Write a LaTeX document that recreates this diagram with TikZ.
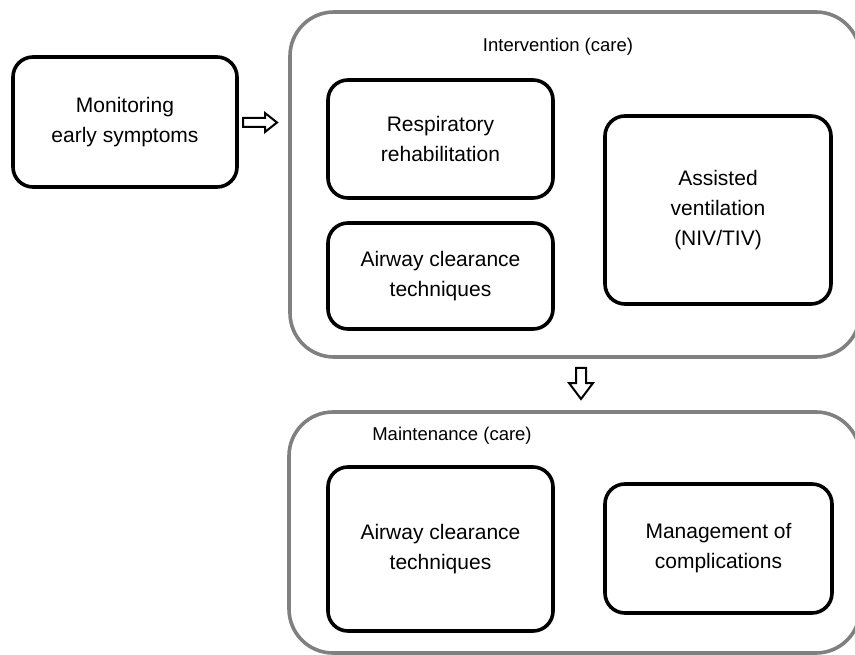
\documentclass[tikz,border=0pt]{standalone}
\usepackage{fontspec}
\setmainfont{Liberation Sans}
\begin{document}
\begin{tikzpicture}[x=1pt,y=-1pt,
  innerbox/.style={draw=black, line width=3.6pt, rounded corners=20pt, align=center,
    font=\fontsize{21}{30}\selectfont, inner sep=0pt},
  outerbox/.style={draw=black!50, line width=3.6pt, rounded corners=44pt, inner sep=0pt},
  title/.style={font=\fontsize{18.5}{24}\selectfont, inner sep=0pt},
  blockarrow/.style={draw=black, line width=2pt, fill=white, line join=miter}]
\useasboundingbox (0,0) rectangle (855,655);
\clip (0,0) rectangle (855,655);
\node[outerbox, minimum width=570pt, minimum height=345pt] (inter) at (575,184.5) {};
\node[outerbox, minimum width=571pt, minimum height=241pt] (maint) at (574.5,532.5) {};
\node[title] (intert) at (558,47) {Intervention (care)};
\node[title] (maintt) at (452,436) {Maintenance (care)};
\node[innerbox, minimum width=224pt, minimum height=130pt] (mon) at (125,122) {Monitoring\\early symptoms};
\node[innerbox, minimum width=225pt, minimum height=118pt] (resp) at (440.5,139) {Respiratory\\rehabilitation};
\node[innerbox, minimum width=225pt, minimum height=106pt] (air1) at (440.5,276) {Airway clearance\\techniques};
\node[innerbox, minimum width=226pt, minimum height=188pt] (assist) at (718,210) {Assisted\\ventilation\\(NIV/TIV)};
\node[innerbox, minimum width=225pt, minimum height=164pt] (air2) at (440.5,549) {Airway clearance\\techniques};
\node[innerbox, minimum width=227pt, minimum height=129pt] (mgmt) at (718.5,548.5) {Management of\\complications};
\draw[blockarrow] (243,118) -- (265,118) -- (265,113) -- (277,122.5) -- (265,132) -- (265,127) -- (243,127) -- cycle;
\draw[blockarrow] (576,368) -- (576,383) -- (569,383) -- (581,399) -- (593,383) -- (586,383) -- (586,368) -- cycle;
\end{tikzpicture}
\end{document}
